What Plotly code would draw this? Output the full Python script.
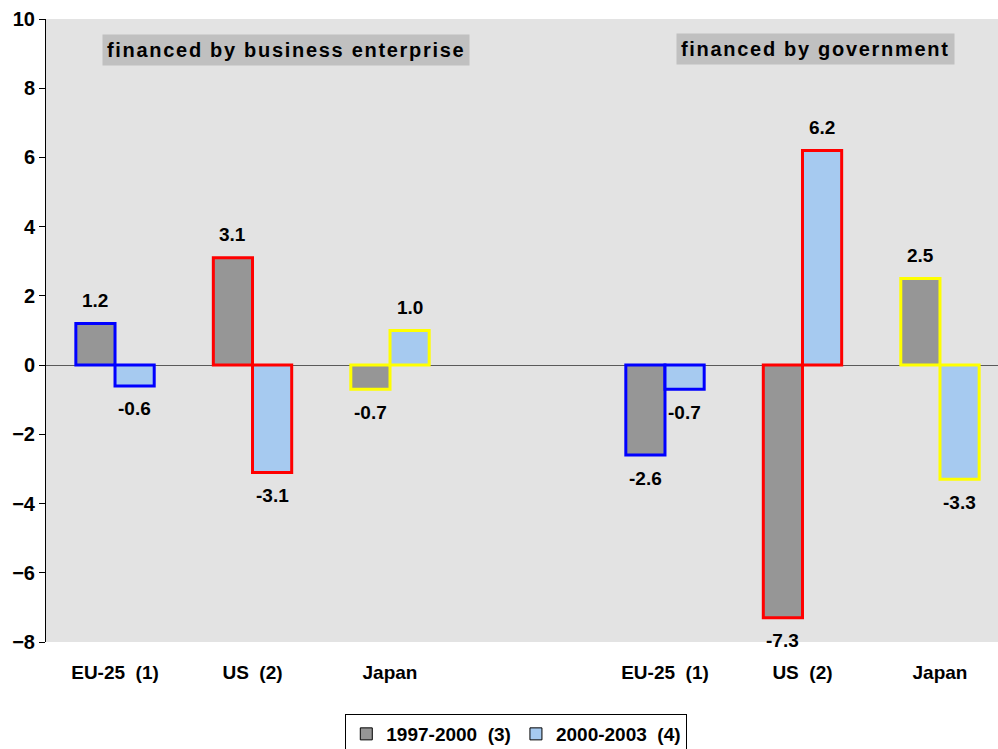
import plotly.graph_objects as go

# Category slots: two panels of three regions, with an empty slot between them
slot_pos = [0, 1, 2, 4, 5, 6]
slot_labels = ["EU-25\u00a0\u00a0(1)", "US\u00a0\u00a0(2)", "Japan",
               "EU-25\u00a0\u00a0(1)", "US\u00a0\u00a0(2)", "Japan"]

series_names = ["1997-2000\u00a0\u00a0(3)", "2000-2003\u00a0\u00a0(4)"]
period_1997_2000 = [1.2, 3.1, -0.7, -2.6, -7.3, 2.5]
period_2000_2003 = [-0.6, -3.1, 1.0, -0.7, 6.2, -3.3]

region_edge = ["#0000FF", "#FF0000", "#FFFF00", "#0000FF", "#FF0000", "#FFFF00"]
fills = ["#969696", "#A6CAF0"]

y_ticks = [-8, -6, -4, -2, 0, 2, 4, 6, 8, 10]
panel_titles = ["financed by business enterprise", "financed by government"]

FONT = "Arial, 'Liberation Sans', sans-serif"
BAR_W = 0.285

fig = go.Figure()

for i, (vals, offset) in enumerate([(period_1997_2000, -BAR_W), (period_2000_2003, 0.0)]):
    fig.add_trace(go.Bar(
        x=slot_pos, y=vals, width=BAR_W, offset=offset,
        marker=dict(color=fills[i], line=dict(color=region_edge, width=3)),
        showlegend=False, hoverinfo="skip",
    ))
    # value labels just beyond the bar ends
    for xp, v in zip(slot_pos, vals):
        fig.add_annotation(
            x=xp + offset + BAR_W / 2, y=v, text=f"{v:.1f}",
            showarrow=False, yanchor="middle", xanchor="center",
            yshift=23 if v >= 0 else -23,
            font=dict(family=FONT, size=19, color="black", weight="bold"),
        )

# legend entries with plain black outlines
for name, col in zip(series_names, fills):
    fig.add_trace(go.Bar(
        x=[None], y=[None], name=name,
        marker=dict(color=col, line=dict(color="black", width=1)),
    ))

# panel headers
for txt, xc, yc in [(panel_titles[0], 1.24, 9.10), (panel_titles[1], 5.098, 9.12)]:
    fig.add_annotation(
        x=xc, y=yc, text=f'<span style="letter-spacing:1.7px">{txt}</span>',
        showarrow=False, xanchor="center", yanchor="middle",
        bgcolor="#C0C0C0", borderpad=4,
        font=dict(family=FONT, size=20, color="black", weight="bold"),
    )

fig.update_layout(
    width=998, height=749,
    margin=dict(l=46, r=0, t=19, b=107, autoexpand=False),
    paper_bgcolor="white", plot_bgcolor="#E3E3E3",
    barmode="overlay",
    font=dict(family=FONT, color="black"),
    legend=dict(
        orientation="h", x=0.494, xanchor="center", y=-0.1156, yanchor="top",
        bordercolor="black", borderwidth=1, bgcolor="white",
        font=dict(family=FONT, size=19, color="black", weight="bold"),
        itemwidth=30,
    ),
    xaxis=dict(
        range=[-0.502, 6.422], tickmode="array", tickvals=slot_pos,
        ticktext=slot_labels, showgrid=False, zeroline=False, ticks="",
        showline=False, ticklabelstandoff=17,
        tickfont=dict(family=FONT, size=19, color="black", weight="bold"),
    ),
    yaxis=dict(
        range=[-8, 10], tickmode="array", tickvals=y_ticks,
        showgrid=False, zeroline=True, zerolinecolor="#5A5A5A", zerolinewidth=1.2,
        showline=True, linecolor="black", linewidth=1,
        ticks="outside", ticklen=6, tickcolor="black",
        tickfont=dict(family=FONT, size=20, color="black", weight="bold"),
    ),
)

fig.write_html("out.html")
